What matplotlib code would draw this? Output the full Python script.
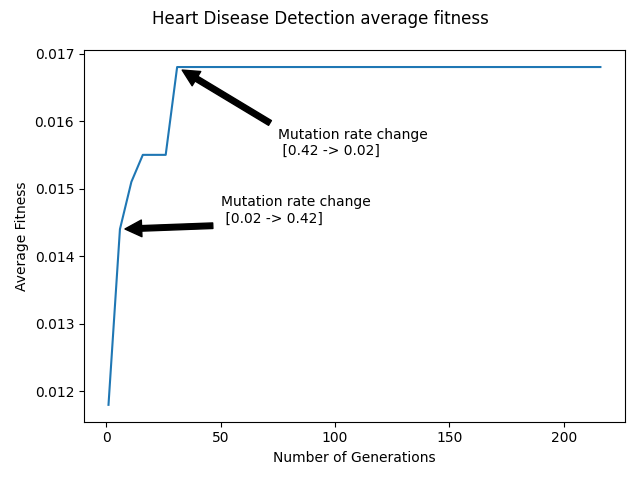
import matplotlib
matplotlib.use('Agg')
import matplotlib.pyplot as plt

# generations where the average fitness changes (flat afterwards)
generations = [1, 6, 11, 16, 21, 26, 31, 216]
avg_fitness = [0.0118, 0.0144, 0.0151, 0.0155, 0.0155, 0.0155, 0.0168, 0.0168]

notes = ['Mutation rate change\n [0.02 -> 0.42]',
         'Mutation rate change\n [0.42 -> 0.02]']
note_points = [(6, 0.0144), (31, 0.0168)]
note_text_pos = [(50, 0.0145), (75, 0.0155)]

fig, ax = plt.subplots(figsize=(6.4, 4.8), dpi=100)
fig.suptitle('Heart Disease Detection average fitness')

ax.plot(generations, avg_fitness)

for txt, pt, tpos in zip(notes, note_points, note_text_pos):
    ax.annotate(txt, xy=pt, xytext=tpos,
                arrowprops=dict(facecolor='black', shrink=0.05))

ax.set_xlabel('Number of Generations')
ax.set_ylabel('Average Fitness')

fig.tight_layout()
fig.savefig('out.png')
